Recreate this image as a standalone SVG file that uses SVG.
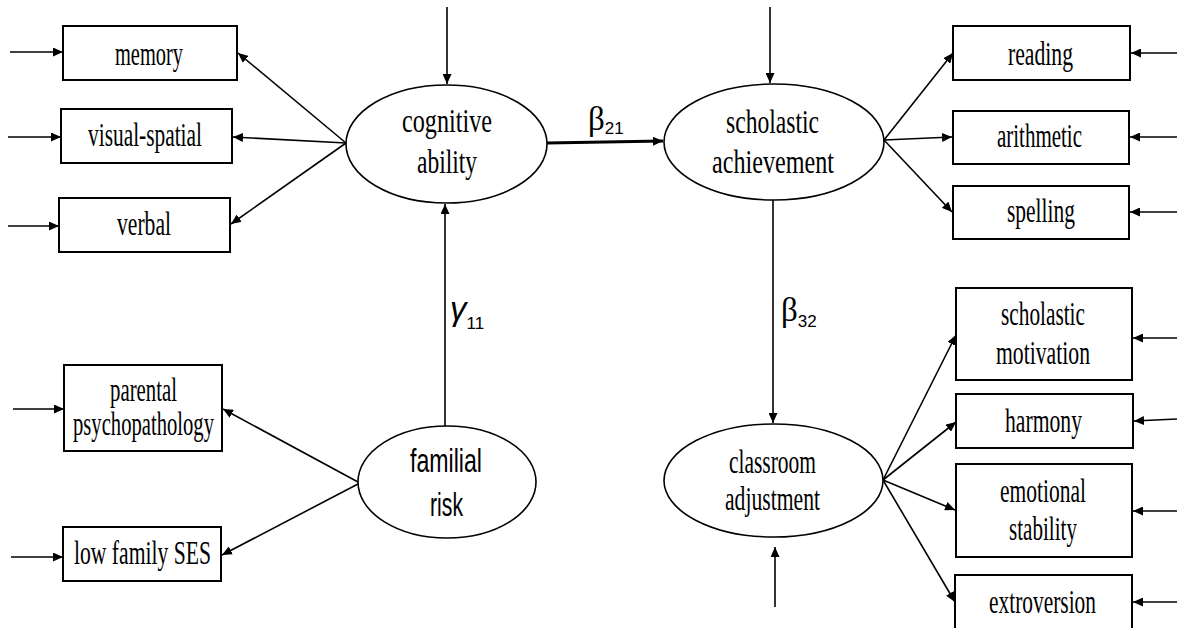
<svg xmlns="http://www.w3.org/2000/svg" width="1177" height="628" viewBox="0 0 1177 628">
<style>
.box{fill:#fff;stroke:#000;stroke-width:2}
.ell{fill:#fff;stroke:#000;stroke-width:1.6}
.ln{stroke:#000;stroke-width:1.6;fill:none;marker-end:url(#ah)}
.thick{stroke:#000;stroke-width:3.2;fill:none;marker-end:url(#ah)}
.t{font-family:"Liberation Serif","Times New Roman",serif;font-size:33px;fill:#000}
.s{font-family:"Liberation Sans",Arial,sans-serif;font-size:33px;fill:#000}
.sub{font-family:"Liberation Sans",Arial,sans-serif;font-size:17px;font-style:normal}
</style>
<defs>
<marker id="ah" markerUnits="userSpaceOnUse" markerWidth="11" markerHeight="9" refX="10" refY="4.5" orient="auto">
<path d="M0,0 L10,4.5 L0,9 z" fill="#000"/>
</marker>
</defs>
<rect width="1177" height="628" fill="#fff"/>
<g id="connectors">
<line class="ln" x1="447" y1="7" x2="447" y2="84"/>
<line class="ln" x1="770" y1="7" x2="770" y2="83"/>
<line class="thick" x1="547" y1="143" x2="663" y2="141"/>
<line class="ln" x1="445" y1="427" x2="445" y2="204"/>
<line class="ln" x1="773" y1="200" x2="773" y2="423"/>
<line class="ln" x1="775" y1="607" x2="775" y2="547"/>
<line class="ln" x1="346" y1="143" x2="238" y2="53"/>
<line class="ln" x1="346" y1="143" x2="233" y2="137"/>
<line class="ln" x1="346" y1="143" x2="231" y2="224"/>
<line class="ln" x1="358" y1="482" x2="223" y2="409"/>
<line class="ln" x1="358" y1="484" x2="222" y2="555"/>
<line class="ln" x1="884" y1="140" x2="953" y2="53"/>
<line class="ln" x1="884" y1="140" x2="952" y2="137"/>
<line class="ln" x1="884" y1="140" x2="952" y2="212"/>
<line class="ln" x1="883" y1="480" x2="956" y2="335"/>
<line class="ln" x1="883" y1="480" x2="956" y2="422"/>
<line class="ln" x1="883" y1="480" x2="955" y2="510"/>
<line class="ln" x1="883" y1="480" x2="955" y2="602"/>
<line class="ln" x1="10" y1="52" x2="63" y2="52"/>
<line class="ln" x1="8" y1="137" x2="61" y2="137"/>
<line class="ln" x1="8" y1="226" x2="59" y2="226"/>
<line class="ln" x1="13" y1="409" x2="64" y2="409"/>
<line class="ln" x1="11" y1="557" x2="63" y2="557"/>
<line class="ln" x1="1177" y1="53" x2="1131" y2="53"/>
<line class="ln" x1="1177" y1="137" x2="1130" y2="137"/>
<line class="ln" x1="1177" y1="212" x2="1130" y2="212"/>
<line class="ln" x1="1177" y1="338" x2="1133" y2="338"/>
<line class="ln" x1="1177" y1="419" x2="1134" y2="421"/>
<line class="ln" x1="1177" y1="511" x2="1133" y2="511"/>
<line class="ln" x1="1177" y1="602" x2="1133" y2="602"/>
</g>
<g id="labels">
<text class="t" x="588" y="130" font-size="26">β<tspan class="sub" dy="4">21</tspan></text>
<text class="s" x="450" y="320" font-size="26" font-style="italic">γ<tspan class="sub" dy="9">11</tspan></text>
<text class="t" x="781" y="321" font-size="26">β<tspan class="sub" dy="6">32</tspan></text>
</g>
<g id="cognitive">
<ellipse class="ell" cx="446.5" cy="144" rx="100.5" ry="59"/>
<text class="t" x="402" y="132" textLength="90" lengthAdjust="spacingAndGlyphs">cognitive</text>
<text class="t" x="417" y="173" textLength="60" lengthAdjust="spacingAndGlyphs">ability</text>
</g>
<g id="scholastic">
<ellipse class="ell" cx="774" cy="142" rx="110" ry="58"/>
<text class="t" x="726" y="133" textLength="93" lengthAdjust="spacingAndGlyphs">scholastic</text>
<text class="t" x="712" y="173" textLength="122" lengthAdjust="spacingAndGlyphs">achievement</text>
</g>
<g id="familial">
<ellipse class="ell" cx="447" cy="482" rx="89" ry="56"/>
<text class="s" x="410" y="472" textLength="72" lengthAdjust="spacingAndGlyphs">familial</text>
<text class="s" x="430" y="516" textLength="33" lengthAdjust="spacingAndGlyphs">risk</text>
</g>
<g id="classroom">
<ellipse class="ell" cx="773.5" cy="480.5" rx="109.5" ry="56.5"/>
<text class="t" x="729" y="473" textLength="87" lengthAdjust="spacingAndGlyphs">classroom</text>
<text class="t" x="725" y="510" textLength="95" lengthAdjust="spacingAndGlyphs">adjustment</text>
</g>
<g id="memory">
<rect class="box" x="63" y="26" width="174" height="54"/>
<text class="t" x="115" y="65" textLength="68" lengthAdjust="spacingAndGlyphs">memory</text>
</g>
<g id="visual-spatial">
<rect class="box" x="61" y="109" width="171" height="54"/>
<text class="t" x="88" y="146" textLength="114" lengthAdjust="spacingAndGlyphs">visual-spatial</text>
</g>
<g id="verbal">
<rect class="box" x="59" y="198" width="171" height="54"/>
<text class="t" x="117" y="235" textLength="54" lengthAdjust="spacingAndGlyphs">verbal</text>
</g>
<g id="parental">
<rect class="box" x="64" y="365" width="158" height="86"/>
<text class="t" x="110" y="401" font-size="30" textLength="67" lengthAdjust="spacingAndGlyphs">parental</text>
<text class="t" x="73" y="435" font-size="30" textLength="141" lengthAdjust="spacingAndGlyphs">psychopathology</text>
</g>
<g id="lowses">
<rect class="box" x="63" y="527" width="158" height="54"/>
<text class="t" x="74" y="564" textLength="137" lengthAdjust="spacingAndGlyphs">low family SES</text>
</g>
<g id="reading">
<rect class="box" x="953" y="26" width="177" height="54"/>
<text class="t" x="1008" y="65" textLength="65" lengthAdjust="spacingAndGlyphs">reading</text>
</g>
<g id="arithmetic">
<rect class="box" x="953" y="111" width="176" height="53"/>
<text class="t" x="997" y="147" textLength="85" lengthAdjust="spacingAndGlyphs">arithmetic</text>
</g>
<g id="spelling">
<rect class="box" x="953" y="186" width="176" height="53"/>
<text class="t" x="1007" y="222" textLength="68" lengthAdjust="spacingAndGlyphs">spelling</text>
</g>
<g id="motivation">
<rect class="box" x="956" y="288" width="176" height="92"/>
<text class="t" x="1001" y="325" textLength="84" lengthAdjust="spacingAndGlyphs">scholastic</text>
<text class="t" x="996" y="364" textLength="94" lengthAdjust="spacingAndGlyphs">motivation</text>
</g>
<g id="harmony">
<rect class="box" x="956" y="394" width="177" height="54"/>
<text class="t" x="1005" y="432" textLength="77" lengthAdjust="spacingAndGlyphs">harmony</text>
</g>
<g id="emotional">
<rect class="box" x="956" y="464" width="176" height="93"/>
<text class="t" x="1000" y="502" textLength="86" lengthAdjust="spacingAndGlyphs">emotional</text>
<text class="t" x="1009" y="540" textLength="68" lengthAdjust="spacingAndGlyphs">stability</text>
</g>
<g id="extroversion">
<rect class="box" x="955" y="575" width="177" height="70"/>
<text class="t" x="989" y="613" textLength="107" lengthAdjust="spacingAndGlyphs">extroversion</text>
</g>
</svg>
